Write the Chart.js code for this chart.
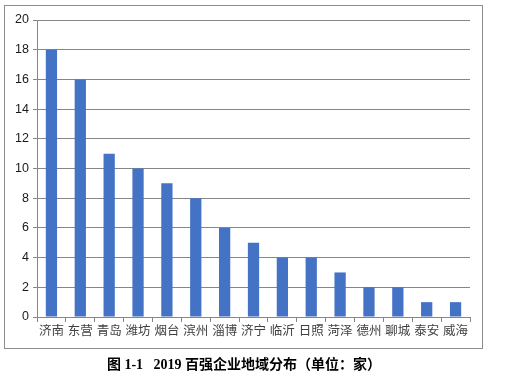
<!DOCTYPE html>
<html><head><meta charset="utf-8">
<script src="https://cdn.jsdelivr.net/npm/chart.js@4/dist/chart.umd.min.js"></script>
<style>
html,body{margin:0;padding:0;background:#fff;}
#wrap{position:relative;width:513px;height:385px;}
#box{position:absolute;left:4px;top:5px;width:479px;height:344px;border:1px solid #8c8c8c;box-sizing:border-box;}
#c{position:absolute;left:0;top:0;}
#cap{position:absolute;left:4px;width:480px;top:353px;text-align:center;font:bold 14px "Liberation Serif","Noto Sans CJK SC",serif;color:#000;white-space:pre;}
</style></head><body>
<div id="wrap">
<div id="box"></div>
<canvas id="c" width="513" height="385"></canvas>
<div id="cap">图 1-1   2019 百强企业地域分布（单位：家）</div>
</div>
<script>
const categories = ["济南","东营","青岛","潍坊","烟台","滨州","淄博","济宁","临沂","日照","菏泽","德州","聊城","泰安","威海"];
const values = [18,16,11,10,9,8,6,5,4,4,3,2,2,1,1];
const yTicks = [0,2,4,6,8,10,12,14,16,18,20];

new Chart(document.getElementById('c'), {
  type: 'bar',
  data: { labels: categories, datasets: [{ data: values, backgroundColor: '#4472C4', barPercentage: 0.39, categoryPercentage: 1 }] },
  options: {
    responsive: false, animation: false,
    layout: { padding: { top: 20, right: 43, left: 0, bottom: 0 } },
    plugins: { legend: { display: false }, tooltip: { enabled: false } },
    scales: {
      x: {
        offset: true,
        grid: { offset: true, drawOnChartArea: false, color: '#868686', tickLength: 5 },
        border: { color: '#868686' },
        ticks: { color: '#404040', font: { size: 12.5, family: '"Noto Sans CJK SC"' }, padding: 1, maxRotation: 0, autoSkip: false },
        afterFit: s => { s.height = 68; }
      },
      y: {
        min: 0, max: 20,
        afterBuildTicks: s => { s.ticks = yTicks.map(v => ({ value: v })); },
        grid: { color: '#868686', tickLength: 4 },
        border: { color: '#868686' },
        ticks: { color: '#1a1a1a', font: { size: 12.5, family: '"Liberation Sans", Arial' }, padding: 4 },
        afterFit: s => { s.width = 37; }
      }
    }
  }
});
</script>
</body></html>
